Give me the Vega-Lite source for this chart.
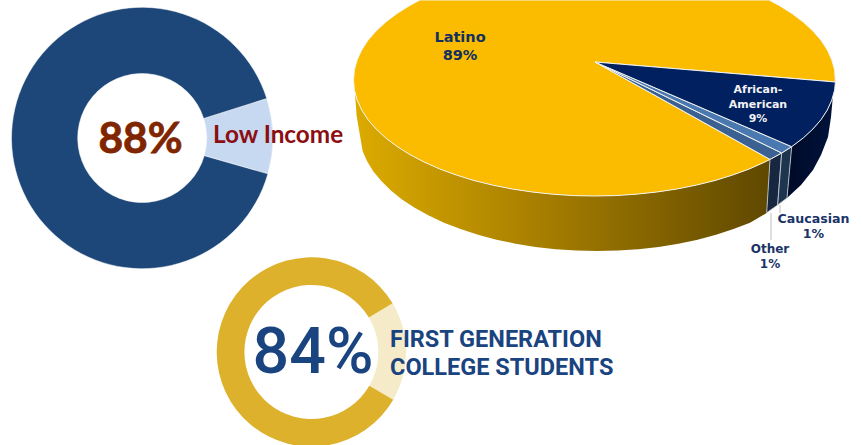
{
"$schema":"https://vega.github.io/schema/vega-lite/v6.json",
"width":862,"height":445,"padding":0,"autosize":{"type":"none"},
"background":"white",
"view":{"stroke":null},
"datasets":{
"shares":[
{"chart":"income","slice":"Low Income","seq":1,"share":9.3},
{"chart":"income","slice":"Not low income","seq":2,"share":90.7},
{"chart":"firstgen","slice":"Not first generation","seq":1,"share":17},
{"chart":"firstgen","slice":"First generation","seq":2,"share":83}
],
"shape":[
{"part":"Latino wall","seq":1,"x":770,"y":159.4},{"part":"Latino wall","seq":2,"x":764.9,"y":162},{"part":"Latino wall","seq":3,"x":749.4,"y":168.9},{"part":"Latino wall","seq":4,"x":732.7,"y":175},{"part":"Latino wall","seq":5,"x":715,"y":180.5},{"part":"Latino wall","seq":6,"x":696.4,"y":185.1},{"part":"Latino wall","seq":7,"x":676.9,"y":189},{"part":"Latino wall","seq":8,"x":656.9,"y":192},{"part":"Latino wall","seq":9,"x":636.3,"y":194.2},{"part":"Latino wall","seq":10,"x":615.5,"y":195.6},{"part":"Latino wall","seq":11,"x":594.5,"y":196},{"part":"Latino wall","seq":12,"x":573.5,"y":195.6},{"part":"Latino wall","seq":13,"x":552.7,"y":194.2},{"part":"Latino wall","seq":14,"x":532.1,"y":192},{"part":"Latino wall","seq":15,"x":512.1,"y":189},{"part":"Latino wall","seq":16,"x":492.6,"y":185.1},{"part":"Latino wall","seq":17,"x":474,"y":180.5},{"part":"Latino wall","seq":18,"x":456.3,"y":175},{"part":"Latino wall","seq":19,"x":439.6,"y":168.9},{"part":"Latino wall","seq":20,"x":424.1,"y":162},{"part":"Latino wall","seq":21,"x":409.9,"y":154.6},{"part":"Latino wall","seq":22,"x":397.1,"y":146.5},{"part":"Latino wall","seq":23,"x":385.8,"y":138},{"part":"Latino wall","seq":24,"x":376.1,"y":129},{"part":"Latino wall","seq":25,"x":368,"y":119.7},{"part":"Latino wall","seq":26,"x":361.7,"y":110},{"part":"Latino wall","seq":27,"x":357.2,"y":100.1},{"part":"Latino wall","seq":28,"x":355,"y":93},
{"part":"Latino wall","seq":29,"x":356.5,"y":115},{"part":"Latino wall","seq":30,"x":362.6,"y":151},{"part":"Latino wall","seq":31,"x":367.1,"y":161.3},{"part":"Latino wall","seq":32,"x":373.4,"y":171.4},{"part":"Latino wall","seq":33,"x":381.3,"y":181.1},{"part":"Latino wall","seq":34,"x":390.9,"y":190.5},{"part":"Latino wall","seq":35,"x":402,"y":199.4},{"part":"Latino wall","seq":36,"x":414.7,"y":207.8},{"part":"Latino wall","seq":37,"x":428.7,"y":215.6},{"part":"Latino wall","seq":38,"x":444,"y":222.7},{"part":"Latino wall","seq":39,"x":460.5,"y":229.1},{"part":"Latino wall","seq":40,"x":478,"y":234.8},{"part":"Latino wall","seq":41,"x":496.4,"y":239.7},{"part":"Latino wall","seq":42,"x":515.6,"y":243.7},{"part":"Latino wall","seq":43,"x":535.4,"y":246.9},{"part":"Latino wall","seq":44,"x":555.7,"y":249.2},{"part":"Latino wall","seq":45,"x":576.3,"y":250.5},{"part":"Latino wall","seq":46,"x":597,"y":251},{"part":"Latino wall","seq":47,"x":617.7,"y":250.5},{"part":"Latino wall","seq":48,"x":638.3,"y":249.2},{"part":"Latino wall","seq":49,"x":658.6,"y":246.9},{"part":"Latino wall","seq":50,"x":678.4,"y":243.7},{"part":"Latino wall","seq":51,"x":697.6,"y":239.7},{"part":"Latino wall","seq":52,"x":716,"y":234.8},{"part":"Latino wall","seq":53,"x":733.5,"y":229.1},{"part":"Latino wall","seq":54,"x":750,"y":222.7},{"part":"Latino wall","seq":55,"x":766.7,"y":213},{"part":"Latino wall","seq":56,"x":770,"y":159.4},
{"part":"African wall","seq":1,"x":791.7,"y":146.7},{"part":"African wall","seq":2,"x":803.2,"y":138},{"part":"African wall","seq":3,"x":812.9,"y":129},{"part":"African wall","seq":4,"x":821,"y":119.7},{"part":"African wall","seq":5,"x":827.3,"y":110},{"part":"African wall","seq":6,"x":831.8,"y":100.1},{"part":"African wall","seq":7,"x":834.6,"y":90.1},{"part":"African wall","seq":8,"x":835.4,"y":82},{"part":"African wall","seq":9,"x":833,"y":95},{"part":"African wall","seq":10,"x":831,"y":117},{"part":"African wall","seq":11,"x":828,"y":137},{"part":"African wall","seq":12,"x":821,"y":155},{"part":"African wall","seq":13,"x":813,"y":170},{"part":"African wall","seq":14,"x":801,"y":185},{"part":"African wall","seq":15,"x":787,"y":198},{"part":"African wall","seq":16,"x":791.7,"y":146.7},
{"part":"Other wall","seq":1,"x":770,"y":159.4},{"part":"Other wall","seq":2,"x":781.7,"y":153},{"part":"Other wall","seq":3,"x":777.7,"y":205},{"part":"Other wall","seq":4,"x":766.7,"y":212.7},{"part":"Other wall","seq":5,"x":770,"y":159.4},
{"part":"Caucasian wall","seq":1,"x":781.7,"y":153},{"part":"Caucasian wall","seq":2,"x":791.7,"y":146.7},{"part":"Caucasian wall","seq":3,"x":787,"y":198},{"part":"Caucasian wall","seq":4,"x":777.7,"y":205},{"part":"Caucasian wall","seq":5,"x":781.7,"y":153},
{"part":"Latino","seq":1,"x":595,"y":62},{"part":"Latino","seq":2,"x":835.4,"y":82},{"part":"Latino","seq":3,"x":834.6,"y":69.9},{"part":"Latino","seq":4,"x":831.8,"y":59.9},{"part":"Latino","seq":5,"x":827.3,"y":50},{"part":"Latino","seq":6,"x":821,"y":40.3},{"part":"Latino","seq":7,"x":812.9,"y":31},{"part":"Latino","seq":8,"x":803.2,"y":22},{"part":"Latino","seq":9,"x":791.9,"y":13.5},{"part":"Latino","seq":10,"x":779.1,"y":5.4},{"part":"Latino","seq":11,"x":769,"y":0},{"part":"Latino","seq":12,"x":420,"y":0},{"part":"Latino","seq":13,"x":409.9,"y":5.4},{"part":"Latino","seq":14,"x":397.1,"y":13.5},{"part":"Latino","seq":15,"x":385.8,"y":22},{"part":"Latino","seq":16,"x":376.1,"y":31},{"part":"Latino","seq":17,"x":368,"y":40.3},{"part":"Latino","seq":18,"x":361.7,"y":50},{"part":"Latino","seq":19,"x":357.2,"y":59.9},{"part":"Latino","seq":20,"x":354.4,"y":69.9},{"part":"Latino","seq":21,"x":353.5,"y":80},{"part":"Latino","seq":22,"x":354.4,"y":90.1},{"part":"Latino","seq":23,"x":357.2,"y":100.1},{"part":"Latino","seq":24,"x":361.7,"y":110},{"part":"Latino","seq":25,"x":368,"y":119.7},{"part":"Latino","seq":26,"x":376.1,"y":129},{"part":"Latino","seq":27,"x":385.8,"y":138},{"part":"Latino","seq":28,"x":397.1,"y":146.5},{"part":"Latino","seq":29,"x":409.9,"y":154.6},{"part":"Latino","seq":30,"x":424.1,"y":162},{"part":"Latino","seq":31,"x":439.6,"y":168.9},{"part":"Latino","seq":32,"x":456.3,"y":175},{"part":"Latino","seq":33,"x":474,"y":180.5},{"part":"Latino","seq":34,"x":492.6,"y":185.1},{"part":"Latino","seq":35,"x":512.1,"y":189},{"part":"Latino","seq":36,"x":532.1,"y":192},{"part":"Latino","seq":37,"x":552.7,"y":194.2},{"part":"Latino","seq":38,"x":573.5,"y":195.6},{"part":"Latino","seq":39,"x":594.5,"y":196},{"part":"Latino","seq":40,"x":615.5,"y":195.6},{"part":"Latino","seq":41,"x":636.3,"y":194.2},{"part":"Latino","seq":42,"x":656.9,"y":192},{"part":"Latino","seq":43,"x":676.9,"y":189},{"part":"Latino","seq":44,"x":696.4,"y":185.1},{"part":"Latino","seq":45,"x":715,"y":180.5},{"part":"Latino","seq":46,"x":732.7,"y":175},{"part":"Latino","seq":47,"x":749.4,"y":168.9},{"part":"Latino","seq":48,"x":764.9,"y":162},{"part":"Latino","seq":49,"x":770,"y":159.4},{"part":"Latino","seq":50,"x":595,"y":62},
{"part":"Other","seq":1,"x":595,"y":62},{"part":"Other","seq":2,"x":770,"y":159.4},{"part":"Other","seq":3,"x":781.7,"y":153},{"part":"Other","seq":4,"x":595,"y":62},
{"part":"Caucasian","seq":1,"x":595,"y":62},{"part":"Caucasian","seq":2,"x":781.7,"y":153},{"part":"Caucasian","seq":3,"x":791.7,"y":146.7},{"part":"Caucasian","seq":4,"x":595,"y":62},
{"part":"African-American","seq":1,"x":595,"y":62},{"part":"African-American","seq":2,"x":791.7,"y":146.7},{"part":"African-American","seq":3,"x":803.2,"y":138},{"part":"African-American","seq":4,"x":812.9,"y":129},{"part":"African-American","seq":5,"x":821,"y":119.7},{"part":"African-American","seq":6,"x":827.3,"y":110},{"part":"African-American","seq":7,"x":831.8,"y":100.1},{"part":"African-American","seq":8,"x":834.6,"y":90.1},{"part":"African-American","seq":9,"x":835.4,"y":82},{"part":"African-American","seq":10,"x":595,"y":62}
],
"leaders":[{"label":"Other","x":771,"y":213,"y2":240},{"label":"Caucasian","x":780,"y":205,"y2":213}],
"pieLabels":[
{"t":"Latino\n89%","x":460,"y":38,"size":14.5,"lh":18},
{"t":"African-\nAmerican\n9%","x":758,"y":90,"size":11,"lh":14.7},
{"t":"Caucasian\n1%","x":813.5,"y":219,"size":12.6,"lh":15},
{"t":"Other\n1%","x":770,"y":249,"size":12,"lh":15}
]
},
"layer":[
{"data":{"name":"shares"},"transform":[{"filter":"datum.chart=='income'"}],
 "mark":{"type":"arc","innerRadius":64.5,"outerRadius":130.7,"stroke":"white","strokeWidth":0.5},
 "encoding":{
  "x":{"datum":142.2,"type":"quantitative","scale":{"domain":[0,862],"range":[0,862],"nice":false,"zero":false},"axis":null},
  "y":{"datum":138,"type":"quantitative","scale":{"domain":[0,445],"range":[0,445],"nice":false,"zero":false},"axis":null},
  "theta":{"field":"share","type":"quantitative","scale":{"domain":[0,100],"range":[1.264,7.547]}},
  "order":{"field":"seq"},
  "color":{"field":"slice","type":"nominal","legend":null,"scale":{"domain":["Low Income","Not low income"],"range":["#c6d9f1","#1d4779"]}}
 }},
{"data":{"name":"shares"},"transform":[{"filter":"datum.chart=='firstgen'"}],
 "mark":{"type":"arc","innerRadius":67,"outerRadius":94.7},
 "encoding":{
  "x":{"datum":311.4,"type":"quantitative","axis":null},
  "y":{"datum":352,"type":"quantitative","axis":null},
  "theta":{"field":"share","type":"quantitative","scale":{"domain":[0,100],"range":[1.03,7.313]}},
  "order":{"field":"seq"},
  "color":{"field":"slice","type":"nominal","legend":null,"scale":{"domain":["Not first generation","First generation"],"range":["#f6ebc8","#ddb12b"]}}
 }},
{"data":{"name":"shape"},"transform":[{"filter":"datum.part=='Latino wall'"}],
 "mark":{"type":"line","strokeWidth":0,"fill":{"gradient":"linear","x1":0,"y1":0,"x2":1,"y2":0,"stops":[{"offset":0,"color":"#dcab00"},{"offset":0.45,"color":"#a67e00"},{"offset":1,"color":"#5f4800"}]}},
 "encoding":{"x":{"field":"x","type":"quantitative","axis":null},"y":{"field":"y","type":"quantitative","axis":null},"order":{"field":"seq"}}},
{"data":{"name":"shape"},"transform":[{"filter":"datum.part=='African wall'"}],
 "mark":{"type":"line","strokeWidth":0,"fill":{"gradient":"linear","x1":0,"y1":0,"x2":1,"y2":0,"stops":[{"offset":0,"color":"#000a28"},{"offset":1,"color":"#00133c"}]}},
 "encoding":{"x":{"field":"x","type":"quantitative","axis":null},"y":{"field":"y","type":"quantitative","axis":null},"order":{"field":"seq"}}},
{"data":{"name":"shape"},"transform":[{"filter":"datum.part=='Other wall'||datum.part=='Caucasian wall'"}],
 "mark":{"type":"line","stroke":"#c9d2dc","strokeWidth":0.8},
 "encoding":{"x":{"field":"x","type":"quantitative","axis":null},"y":{"field":"y","type":"quantitative","axis":null},"order":{"field":"seq"},"detail":{"field":"part"},
  "fill":{"field":"part","type":"nominal","legend":null,"scale":{"domain":["Other wall","Caucasian wall"],"range":["#17273f","#1e3550"]}}}},
{"data":{"name":"shape"},"transform":[{"filter":"datum.part=='Latino'||datum.part=='Other'||datum.part=='Caucasian'||datum.part=='African-American'"}],
 "mark":{"type":"line","stroke":"#f4f4ee","strokeWidth":1},
 "encoding":{"x":{"field":"x","type":"quantitative","axis":null},"y":{"field":"y","type":"quantitative","axis":null},"order":{"field":"seq"},"detail":{"field":"part"},
  "fill":{"field":"part","type":"nominal","legend":null,"scale":{"domain":["Latino","Other","Caucasian","African-American"],"range":["#fbbc00","#3a6191","#4a78b0","#002060"]}}}},
{"data":{"name":"leaders"},"mark":{"type":"rule","color":"#c8c8c8","strokeWidth":1.2},
 "encoding":{"x":{"field":"x","type":"quantitative","axis":null},"y":{"field":"y","type":"quantitative","axis":null},"y2":{"field":"y2"}}},
{"data":{"name":"pieLabels"},"transform":[{"filter":"datum.lh==18"}],
 "mark":{"type":"text","font":"DejaVu Sans","fontWeight":"bold","align":"center","baseline":"middle","lineBreak":"\n","lineHeight":18,"color":"#12305f"},
 "encoding":{"x":{"field":"x","type":"quantitative","axis":null},"y":{"field":"y","type":"quantitative","axis":null},"text":{"field":"t"},"size":{"field":"size","type":"quantitative","scale":null}}},
{"data":{"name":"pieLabels"},"transform":[{"filter":"datum.lh==15"}],
 "mark":{"type":"text","font":"DejaVu Sans","fontWeight":"bold","align":"center","baseline":"middle","lineBreak":"\n","lineHeight":15,"color":"#1a3468"},
 "encoding":{"x":{"field":"x","type":"quantitative","axis":null},"y":{"field":"y","type":"quantitative","axis":null},"text":{"field":"t"},"size":{"field":"size","type":"quantitative","scale":null}}},
{"data":{"name":"pieLabels"},"transform":[{"filter":"datum.lh==14.7"}],
 "mark":{"type":"text","font":"DejaVu Sans","fontWeight":"bold","align":"center","baseline":"middle","lineBreak":"\n","lineHeight":14.7,"color":"#f2f2f2"},
 "encoding":{"x":{"field":"x","type":"quantitative","axis":null},"y":{"field":"y","type":"quantitative","axis":null},"text":{"field":"t"},"size":{"field":"size","type":"quantitative","scale":null}}},
{"data":{"values":[{"t":"88%","x":140.5,"y":153}]},
 "mark":{"type":"text","font":"Lato","fontWeight":"bold","fontSize":42.5,"align":"center","baseline":"alphabetic","color":"#7f2600","stroke":"#7f2600","strokeWidth":0.8},
 "encoding":{"x":{"field":"x","type":"quantitative","axis":null},"y":{"field":"y","type":"quantitative","axis":null},"text":{"field":"t"}}},
{"data":{"values":[{"t":"Low Income","x":213,"y":143}]},
 "mark":{"type":"text","font":"Lato","fontWeight":"bold","fontSize":24.3,"align":"left","baseline":"alphabetic","color":"#8b0e12"},
 "encoding":{"x":{"field":"x","type":"quantitative","axis":null},"y":{"field":"y","type":"quantitative","axis":null},"text":{"field":"t"}}},
{"data":{"values":[{"t":"84%","x":313,"y":372.7}]},
 "mark":{"type":"text","font":"Roboto","fontWeight":500,"fontSize":64.5,"align":"center","baseline":"alphabetic","color":"#1a4480"},
 "encoding":{"x":{"field":"x","type":"quantitative","axis":null},"y":{"field":"y","type":"quantitative","axis":null},"text":{"field":"t"}}},
{"data":{"values":[{"t":"FIRST GENERATION","x":390,"y":346.7},{"t":"COLLEGE STUDENTS","x":390,"y":375}]},
 "mark":{"type":"text","font":"Roboto","fontWeight":700,"fontSize":23.5,"align":"left","baseline":"alphabetic","color":"#1a4480"},
 "encoding":{"x":{"field":"x","type":"quantitative","axis":null},"y":{"field":"y","type":"quantitative","axis":null},"text":{"field":"t"}}}
],
"resolve":{"scale":{"theta":"independent","color":"independent","fill":"independent"}}
}
